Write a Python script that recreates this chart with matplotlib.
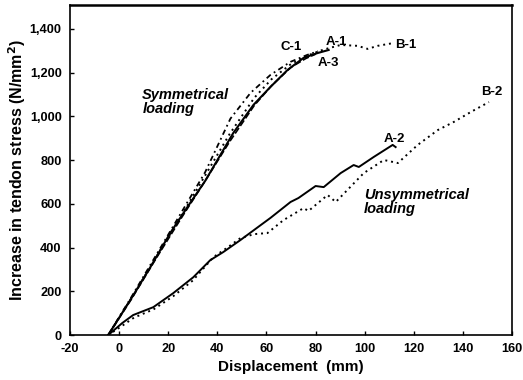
import matplotlib
matplotlib.use("Agg")
import matplotlib.pyplot as plt

# --- data ---
a1_x = [-4.5, 4.5, 12.7, 20.8, 27.8, 35, 46.5, 54.7, 61.6, 68.6, 75.1, 80.8, 85.3]
a1_y = [0, 160, 311, 467, 586, 705, 925, 1053, 1135, 1213, 1268, 1290, 1304]

a3_x = [-4.5, 5, 15, 25, 35, 45, 55, 62, 70, 76, 80]
a3_y = [0, 165, 350, 530, 705, 885, 1050, 1140, 1225, 1265, 1285]

c1_x = [-4.5, 5, 15, 25, 35, 45.3, 53.5, 61.6, 69.8, 76.7, 81]
c1_y = [0, 175, 365, 555, 745, 990, 1108, 1190, 1250, 1282, 1298]

b1_x = [-4.5, 5, 15, 25, 35, 45, 55, 62, 70, 77, 83, 90.2, 97.1, 101.2, 105.3, 111.8]
b1_y = [0, 170, 355, 540, 730, 920, 1085, 1170, 1240, 1280, 1305, 1327, 1323, 1309, 1323, 1336]

a2_x = [-4.5, 1.2, 5.7, 13.9, 22, 30.2, 37.1, 42.4, 49.4, 57.6, 61.6, 69.8, 73, 80,
        83.3, 90.2, 95.5, 97.6, 103.7, 111.4, 112.6]
a2_y = [0, 55, 92, 128, 192, 265, 343, 380, 435, 503, 536, 609, 627, 682,
        677, 741, 778, 769, 815, 870, 860]

b2_x = [-4.5, 1.5, 6, 14, 22, 30, 38.4, 44, 49.4, 55, 60.4, 66.9, 75.1, 77.1, 84.9,
        88.2, 90.2, 99.6, 107.8, 113.5, 121.6, 129.8, 136.3, 143.3, 150.6]
b2_y = [0, 45, 80, 118, 178, 250, 357, 400, 444, 462, 467, 526, 581, 568, 641,
        609, 632, 741, 801, 787, 870, 938, 975, 1021, 1066]

x_ticks = [-20, 0, 20, 40, 60, 80, 100, 120, 140, 160]
y_ticks = [0, 200, 400, 600, 800, 1000, 1200, 1400]
y_tick_labels = ["0", "200", "400", "600", "800", "1,000", "1,200", "1,400"]

curve_labels = [("C-1", 70.2, 1318), ("A-1", 88.6, 1341), ("A-3", 85.3, 1245),
                ("B-1", 116.7, 1327), ("A-2", 112.2, 897), ("B-2", 151.8, 1112)]

plt.rcParams['font.family'] = ['Liberation Sans', 'DejaVu Sans']
plt.rcParams['axes.unicode_minus'] = False

fig = plt.figure(figsize=(5.23, 3.8), dpi=100)
ax = fig.add_axes([0.134, 0.118, 0.845, 0.869])

ax.plot(b1_x, b1_y, color='black', lw=1.4, ls=(0, (1, 2)))
ax.plot(c1_x, c1_y, color='black', lw=1.3, ls=(0, (3, 2, 1, 2)))
ax.plot(a3_x, a3_y, color='black', lw=1.2, ls=(0, (4, 1.5)))
ax.plot(a1_x, a1_y, color='black', lw=1.5)
ax.plot(a2_x, a2_y, color='black', lw=1.4)
ax.plot(b2_x, b2_y, color='black', lw=1.4, ls=(0, (1, 2)))

for txt, x, y in curve_labels:
    ax.text(x, y, txt, fontsize=9.5, fontweight='bold', ha='center', va='center')

ax.text(9.4, 1130, "Symmetrical\nloading", fontsize=10.5, fontweight='bold',
        style='italic', ha='left', va='top', linespacing=1.0)
ax.text(99.6, 675, "Unsymmetrical\nloading", fontsize=10.5, fontweight='bold',
        style='italic', ha='left', va='top', linespacing=1.0)

ax.set_xlim(-20, 160)
ax.set_ylim(0, 1510)
ax.set_xticks(x_ticks)
ax.set_yticks(y_ticks)
ax.set_yticklabels(y_tick_labels)
ax.tick_params(direction='in', length=3, labelsize=9.2, width=1)
ax.tick_params(axis='x', pad=6)
ax.tick_params(axis='y', pad=6)
for lab in ax.get_xticklabels() + ax.get_yticklabels():
    lab.set_fontweight('bold')

ax.set_xlabel("Displacement  (mm)", fontsize=11, fontweight='bold', labelpad=3)
ax.set_ylabel("Increase in tendon stress (N/mm$^\\mathbf{2}$)", fontsize=11.5,
              fontweight='bold', labelpad=1)

for s in ax.spines.values():
    s.set_linewidth(1.2)
ax.spines['top'].set_linewidth(1.8)

fig.savefig("out.png", dpi=100)
